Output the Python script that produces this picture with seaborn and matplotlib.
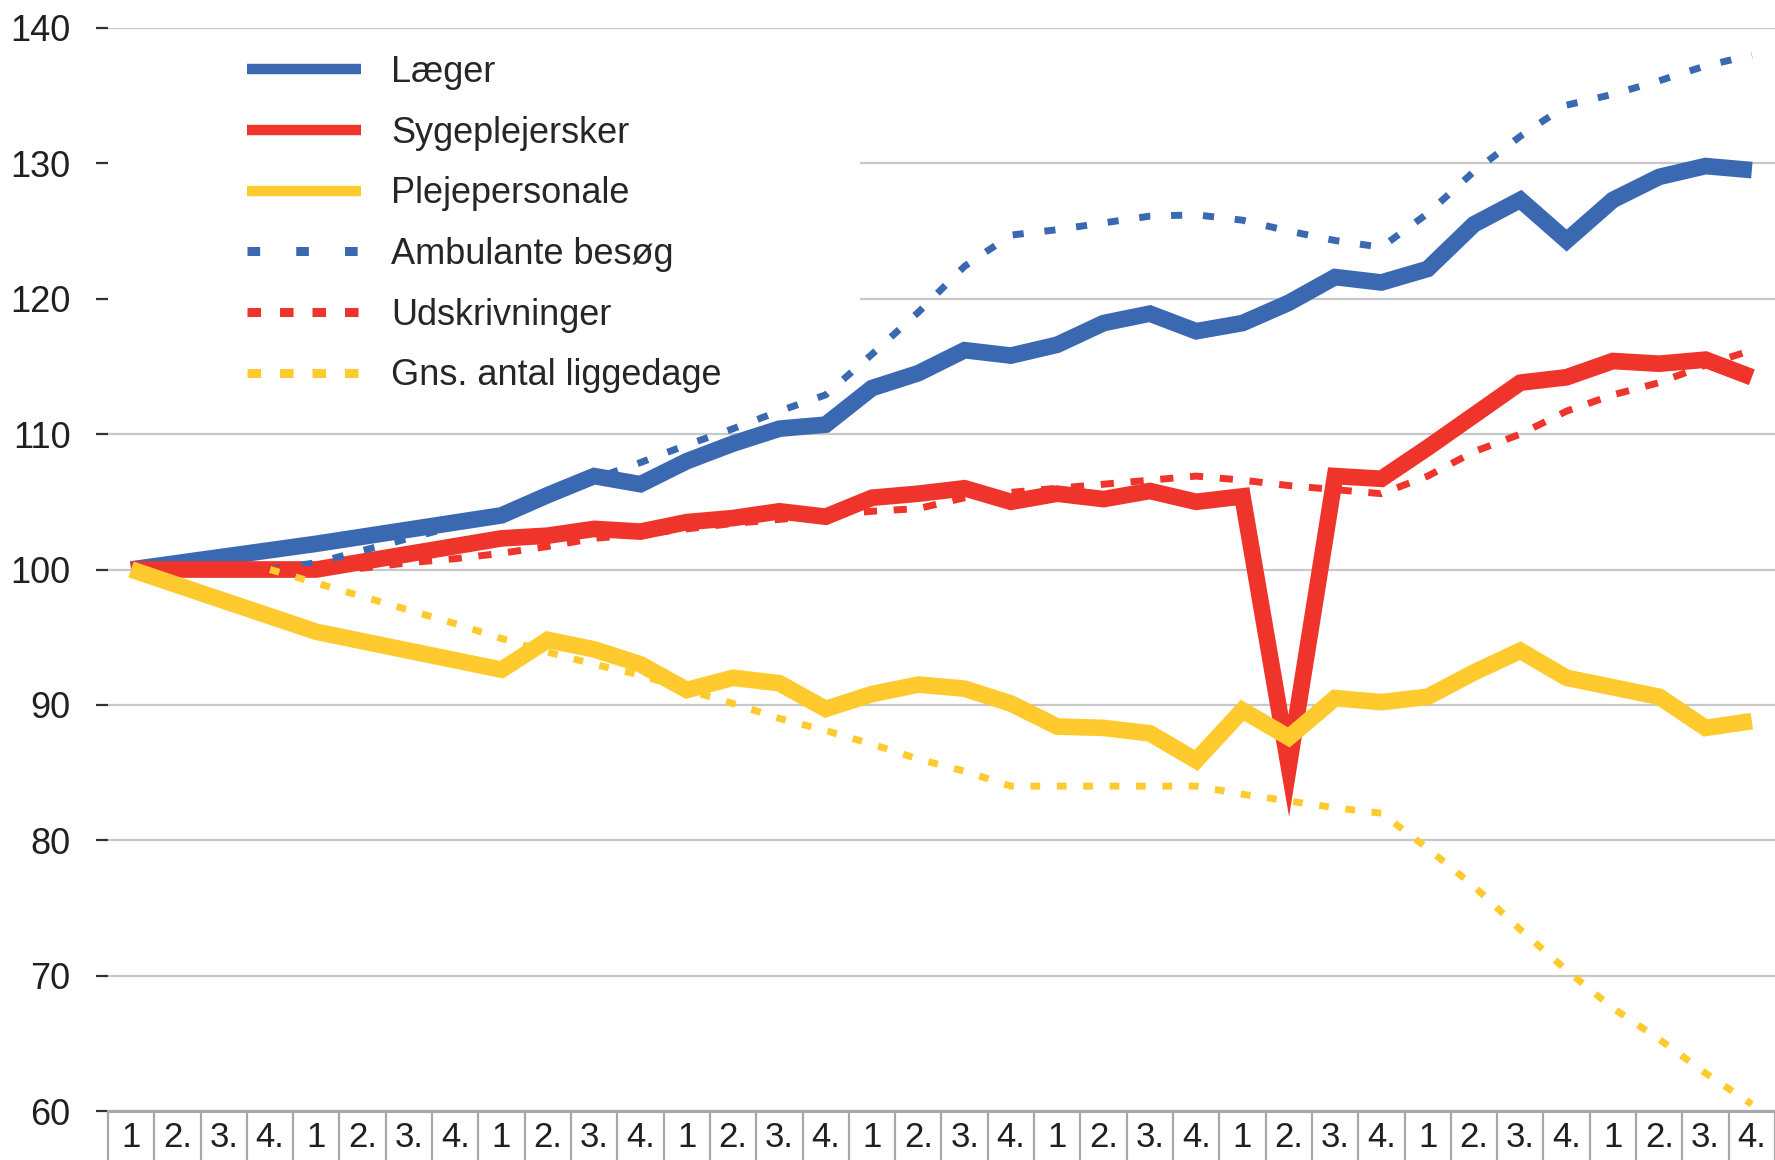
import numpy as np
import pandas as pd
import matplotlib
matplotlib.use("Agg")
import matplotlib.pyplot as plt
from matplotlib.patches import Rectangle
import seaborn as sns

nan = np.nan

# quarter labels, 9 years x 4 quarters
quarter_labels = ["1", "2.", "3.", "4."] * 9

# index values (100 = first quarter)
laeger = [100.0, nan, nan, nan, 101.9, nan, nan, nan,
          104.0, 105.5, 106.9, 106.3, 108.0, 109.3, 110.4, 110.7,
          113.4, 114.5, 116.2, 115.8, 116.6, 118.2, 118.9, 117.6,
          118.2, 119.7, 121.6, 121.2, 122.2, 125.5, 127.3, 124.3,
          127.3, 129.0, 129.8, 129.5]
sygeplejersker = [100.0, nan, nan, nan, 100.0, nan, nan, nan,
                  102.3, 102.5, 103.0, 102.8, 103.5, 103.8, 104.3, 103.9,
                  105.3, 105.6, 106.0, 105.0, 105.6, 105.2, 105.8, 105.0,
                  105.4, 85.5, 106.9, 106.7, 109.0, 111.4, 113.8, 114.2,
                  115.4, 115.2, 115.5, 114.2]
plejepersonale = [100.0, nan, nan, nan, 95.4, nan, nan, nan,
                  92.6, 94.8, 94.1, 93.0, 91.1, 92.0, 91.6, 89.7,
                  90.8, 91.5, 91.2, 90.1, 88.4, 88.3, 87.9, 85.9,
                  89.6, 87.6, 90.5, 90.2, 90.6, 92.4, 94.0, 92.0,
                  91.3, 90.6, 88.3, 88.8]
ambulante = [nan, nan, nan, 100.0, 100.5, 101.4, 102.3, 103.2,
             104.2, 105.4, 106.7, 107.9, 109.2, 110.4, 111.7, 112.9,
             115.9, 119.0, 122.4, 124.7, 125.1, 125.6, 126.1, 126.2,
             125.8, 125.0, 124.3, 123.8, 126.3, 129.4, 132.0, 134.3,
             135.1, 136.1, 137.2, 138.0]
udskrivninger = [nan, nan, nan, 100.0, 100.0, 100.1, 100.5, 100.8,
                 101.2, 101.7, 102.3, 102.6, 103.0, 103.4, 103.7, 104.0,
                 104.3, 104.5, 105.3, 105.7, 106.0, 106.3, 106.6, 106.9,
                 106.6, 106.2, 105.9, 105.6, 106.9, 108.7, 110.0, 111.7,
                 112.9, 113.8, 115.1, 116.2]
liggedage = [nan, nan, nan, 100.0, 99.0, 98.0, 97.0, 96.0,
             94.9, 93.9, 93.0, 92.2, 91.1, 90.1, 89.0, 88.1,
             87.1, 86.0, 85.1, 84.0, 84.0, 84.0, 84.0, 84.0,
             83.4, 82.9, 82.4, 82.0, 79.4, 76.6, 73.4, 70.4,
             67.6, 65.3, 62.8, 60.5]

BLUE = "#3A69B2"
RED = "#EE342B"
YELLOW = "#FFCA2E"

series = [
    ("Læger", laeger, BLUE, "solid"),
    ("Sygeplejersker", sygeplejersker, RED, "solid"),
    ("Plejepersonale", plejepersonale, YELLOW, "solid"),
    ("Ambulante besøg", ambulante, BLUE, (0, (1.6, 3.0))),
    ("Udskrivninger", udskrivninger, RED, (0, (1.9, 2.4))),
    ("Gns. antal liggedage", liggedage, YELLOW, (0, (1.4, 2.4))),
]

sns.set_style("white")
plt.rcParams["font.family"] = ["Liberation Sans", "DejaVu Sans"]

fig = plt.figure(figsize=(17.75, 11.6), dpi=100)
ax = fig.add_axes([0.0608, 0.0422, 0.9392, 0.9337])

for name, vals, col, ls in series:
    df = pd.DataFrame({"kvartal": np.arange(len(vals)), "indeks": vals}).dropna()
    solid = ls == "solid"
    sns.lineplot(data=df, x="kvartal", y="indeks", ax=ax, color=col,
                 linewidth=12 if solid else 5, linestyle=ls,
                 solid_joinstyle="miter", solid_capstyle="butt",
                 dash_capstyle="butt", errorbar=None, label=name)

# white box behind the legend (hides the grid there)
ax.add_patch(Rectangle((0, 0.64), 0.451, 0.345, transform=ax.transAxes,
                       facecolor="white", edgecolor="none", zorder=1))

ax.set_xlim(-0.5, 35.5)
ax.set_ylim(60, 140)
ax.set_axisbelow(True)
ax.set_yticks(np.arange(60, 141, 10))
ax.yaxis.grid(True, color="#C8C8CA", linewidth=1.6)
ax.xaxis.grid(False)
ax.tick_params(axis="y", length=9, width=1.6, color="#333333", pad=18,
               labelsize=26, labelcolor="#231F20", left=True)

ax.set_xticks(np.arange(36))
ax.set_xticklabels(quarter_labels)
ax.set_xticks(np.arange(-0.5, 36, 1), minor=True)
ax.tick_params(axis="x", which="major", length=0, pad=7,
               labelsize=25, labelcolor="#231F20")
ax.tick_params(axis="x", which="minor", length=45, width=1.6,
               color="#A8A8A8", direction="out", bottom=True)
ax.set_xlabel("")
ax.set_ylabel("")

for s in ["left", "right", "top"]:
    ax.spines[s].set_visible(False)
ax.spines["bottom"].set_color("#A8A8A8")
ax.spines["bottom"].set_linewidth(2.2)

handles, labels = ax.get_legend_handles_labels()
leg = ax.legend(handles, labels, loc="upper left", bbox_to_anchor=(0.0834, 0.975),
                frameon=False, fontsize=26, handlelength=3.15, handletextpad=0.85,
                labelspacing=0.71, borderaxespad=0, borderpad=0)
leg.set_zorder(3)
leg_dashes = [None, None, None, (0, (1.4, 4.0)), (0, (1.5, 2.1)), (0, (1.5, 2.1))]
for line, d in zip(leg.get_lines(), leg_dashes):
    if d is None:
        line.set_linewidth(7.5)
    else:
        line.set_linewidth(6.5)
        line.set_linestyle(d)

fig.savefig("out.png", dpi=100)
